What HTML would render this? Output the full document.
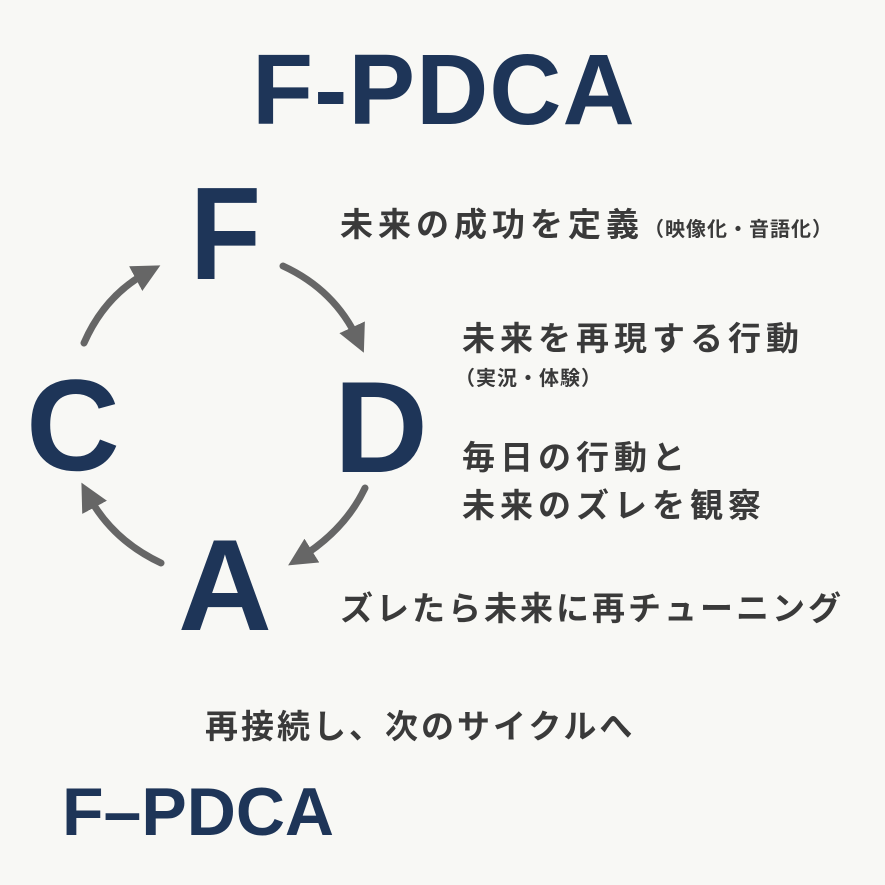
<!DOCTYPE html>
<html><head><meta charset="utf-8"><style>
body{margin:0;width:885px;height:885px;background:#f8f8f5;overflow:hidden;position:relative;font-family:"Liberation Sans","Noto Sans CJK JP",sans-serif}
.t{position:absolute;white-space:nowrap}
.n{color:#1e3558;font-weight:bold}
.j{color:#3a3a3a;font-weight:bold;font-size:33px;letter-spacing:5px}
.s{font-size:20px;letter-spacing:1px}
</style></head><body>
<div class="t n" style="left:252px;top:40px;font-size:100px;line-height:100px;letter-spacing:1px">F-PDCA</div>
<div class="t n" style="left:190px;top:168px;font-size:132px;line-height:132px;transform:scaleX(0.88);transform-origin:0 0">F</div>
<div class="t n" style="left:334px;top:362px;font-size:130px;line-height:130px">D</div>
<div class="t n" style="left:26px;top:360px;font-size:130px;line-height:130px">C</div>
<div class="t n" style="left:178px;top:520px;font-size:130px;line-height:130px">A</div>
<svg style="position:absolute;left:0;top:0" width="885" height="885">
<defs><marker id="a" markerWidth="4" markerHeight="4" refX="2" refY="2" orient="auto" markerUnits="strokeWidth"><path d="M0,0L4,2L0,4Z" fill="#666"/></marker></defs>
<g fill="none" stroke="#666" stroke-width="7" stroke-linecap="round">
<path d="M84,343 Q105,295 148,272" marker-end="url(#a)"/>
<path d="M283,266 Q335,290 358,340" marker-end="url(#a)"/>
<path d="M365,488 Q345,530 300,558" marker-end="url(#a)"/>
<path d="M161,563 Q112,540 88,495" marker-end="url(#a)"/>
</g></svg>
<div class="t j" style="left:340px;top:198px">未来の成功を定義<span class="s">（映像化・音語化）</span></div>
<div class="t j" style="left:462px;top:312px">未来を再現する行動</div>
<div class="t j s" style="left:455px;top:362px">（実況・体験）</div>
<div class="t j" style="left:462px;top:434px;line-height:48px">毎日の行動と<br>未来のズレを観察</div>
<div class="t j" style="left:340px;top:582px;letter-spacing:3px">ズレたら未来に再チューニング</div>
<div class="t j" style="left:205px;top:700px;letter-spacing:3px">再接続し、次のサイクルへ</div>
<div class="t n" style="left:62px;top:772px;font-size:68px;line-height:80px">F–PDCA</div>
</body></html>
